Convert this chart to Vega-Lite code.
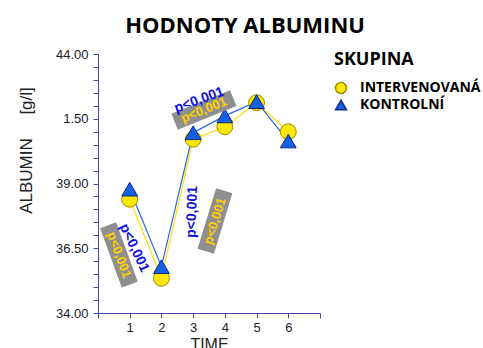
{
  "$schema": "https://vega.github.io/schema/vega-lite/v6.json",
  "autosize": {"type": "none"},
  "padding": {"left": 98, "top": 54, "right": 163, "bottom": 35},
  "width": 222,
  "height": 259,
  "background": "white",
  "config": {"view": {"stroke": null}},
  "title": {"text": "HODNOTY ALBUMINU", "font": "Open Sans", "fontSize": 22, "fontWeight": "bold", "color": "#000000", "anchor": "middle", "frame": "group", "dx": 36, "offset": 10},
  "datasets": {
    "series": [
      {"time": 1, "group": "INTERVENOVANÁ", "value": 38.39},
      {"time": 2, "group": "INTERVENOVANÁ", "value": 35.34},
      {"time": 3, "group": "INTERVENOVANÁ", "value": 40.71},
      {"time": 4, "group": "INTERVENOVANÁ", "value": 41.19},
      {"time": 5, "group": "INTERVENOVANÁ", "value": 42.12},
      {"time": 6, "group": "INTERVENOVANÁ", "value": 41.0},
      {"time": 1, "group": "KONTROLNÍ", "value": 38.78},
      {"time": 2, "group": "KONTROLNÍ", "value": 35.79},
      {"time": 3, "group": "KONTROLNÍ", "value": 40.96},
      {"time": 4, "group": "KONTROLNÍ", "value": 41.61},
      {"time": 5, "group": "KONTROLNÍ", "value": 42.16},
      {"time": 6, "group": "KONTROLNÍ", "value": 40.64}
    ],
    "notes": [
      {"key": "A_y", "kind": "yellow", "time": 0.66, "value": 36.24, "label": "p<0,001"},
      {"key": "A_b", "kind": "blue", "time": 1.14, "value": 36.51, "label": "p<0,001"},
      {"key": "B_y", "kind": "yellow", "time": 3.69, "value": 37.55, "label": "p<0,001"},
      {"key": "B_b", "kind": "blue", "time": 2.97, "value": 37.9, "label": "p<0,001"},
      {"key": "C_y", "kind": "yellow", "time": 3.34, "value": 41.84, "label": "p<0,001"},
      {"key": "C_b", "kind": "blue", "time": 3.19, "value": 42.22, "label": "p<0,001"}
    ]
  },
  "encoding": {
    "x": {"field": "time", "type": "quantitative", "scale": {"domain": [0, 7], "nice": false, "zero": false},
      "axis": {"values": [0, 1, 2, 3, 4, 5, 6, 7], "labelExpr": "datum.value >= 1 && datum.value <= 6 ? datum.label : ''", "labelOverlap": false, "grid": false, "domainColor": "#4848a8", "tickColor": "#4848a8", "tickSize": 5, "labelFont": "Liberation Sans", "labelFontSize": 13, "labelColor": "#222222", "labelPadding": 3, "title": "TIME", "titleFont": "Liberation Sans", "titleFontSize": 16, "titleFontWeight": "normal", "titleColor": "#222222", "titlePadding": 2}},
    "y": {"field": "value", "type": "quantitative", "scale": {"domain": [34, 44], "nice": false, "zero": false},
      "axis": {"values": [34, 34.5, 35, 35.5, 36, 36.5, 37, 37.5, 38, 38.5, 39, 39.5, 40, 40.5, 41, 41.5, 42, 42.5, 43, 43.5, 44], "labelExpr": "(datum.value - 34) % 2.5 == 0 ? (datum.value == 41.5 ? '1.50' : format(datum.value, '.2f')) : ''", "grid": false, "domainColor": "#4848a8", "tickColor": "#4848a8", "tickSize": 5, "labelFont": "Liberation Sans", "labelFontSize": 13, "labelColor": "#222222", "labelPadding": 5, "labelOverlap": false, "title": "ALBUMIN\u00a0\u00a0\u00a0\u00a0\u00a0[g/l]", "titleFont": "Liberation Sans", "titleFontSize": 17, "titleFontWeight": "normal", "titleColor": "#222222", "titleAnchor": "middle", "titleX": -63, "titleY": 96}}
  },
  "layer": [
    {
      "data": {"name": "series"},
      "transform": [{"filter": "datum.group == 'INTERVENOVANÁ'"}],
      "mark": {"type": "line", "strokeWidth": 1.2, "color": "#FFE000"},
      "encoding": {}
    },
    {
      "data": {"name": "series"},
      "transform": [{"filter": "datum.group == 'KONTROLNÍ'"}],
      "mark": {"type": "line", "strokeWidth": 1.2, "color": "#2266EE"},
      "encoding": {}
    },
    {
      "data": {"name": "series"},
      "mark": {"type": "point", "filled": true, "opacity": 1, "strokeWidth": 1},
      "encoding": {
        "fill": {"field": "group", "type": "nominal", "title": "\u00a0\u00a0SKUPINA", "scale": {"domain": ["INTERVENOVANÁ", "KONTROLNÍ"], "range": ["#FFE800", "#1560E0"]},
          "legend": {"orient": "none", "legendX": 236, "legendY": -3, "titleFont": "Open Sans", "titleFontSize": 18, "titleFontWeight": "bold", "titleColor": "#000000", "titlePadding": 12, "labelFont": "Open Sans", "labelFontSize": 14, "labelFontWeight": "bold", "labelColor": "#000000", "symbolSize": 120, "rowPadding": 0, "labelOffset": 12}},
        "shape": {"field": "group", "type": "nominal", "title": "\u00a0\u00a0SKUPINA", "scale": {"domain": ["INTERVENOVANÁ", "KONTROLNÍ"], "range": ["circle", "triangle-up"]}},
        "stroke": {"field": "group", "type": "nominal", "title": "\u00a0\u00a0SKUPINA", "scale": {"domain": ["INTERVENOVANÁ", "KONTROLNÍ"], "range": ["#9a8a00", "#102a80"]}},
        "size": {"value": 250}
      }
    },
    {
      "data": {"name": "notes"},
      "transform": [{"filter": "datum.kind == 'yellow'"}],
      "mark": {"type": "point", "filled": true, "opacity": 1, "shape": "M-1,-0.27L1,-0.27L1,0.27L-1,0.27Z", "size": 4000, "color": "#8f8f8f"},
      "encoding": {
        "angle": {"field": "key", "type": "nominal", "scale": {"type": "ordinal", "domain": ["A_y", "B_y", "C_y"], "range": [70, -73, -22]}, "legend": null}
      }
    },
    {
      "data": {"name": "notes"},
      "transform": [{"filter": "datum.key == 'A_y'"}],
      "mark": {"type": "text", "angle": 70, "font": "Liberation Sans", "fontSize": 13, "fontWeight": "bold", "color": "#FFD000", "align": "center", "baseline": "middle"},
      "encoding": {"text": {"field": "label"}}
    },
    {
      "data": {"name": "notes"},
      "transform": [{"filter": "datum.key == 'B_y'"}],
      "mark": {"type": "text", "angle": -73, "font": "Liberation Sans", "fontSize": 13, "fontWeight": "bold", "color": "#FFD000", "align": "center", "baseline": "middle"},
      "encoding": {"text": {"field": "label"}}
    },
    {
      "data": {"name": "notes"},
      "transform": [{"filter": "datum.key == 'C_y'"}],
      "mark": {"type": "text", "angle": -22, "font": "Liberation Sans", "fontSize": 13, "fontWeight": "bold", "color": "#FFD000", "align": "center", "baseline": "middle"},
      "encoding": {"text": {"field": "label"}}
    },
    {
      "data": {"name": "notes"},
      "transform": [{"filter": "datum.key == 'A_b'"}],
      "mark": {"type": "text", "angle": 65, "font": "Liberation Sans", "fontSize": 14, "fontWeight": "bold", "color": "#1010E0", "align": "center", "baseline": "middle"},
      "encoding": {"text": {"field": "label"}}
    },
    {
      "data": {"name": "notes"},
      "transform": [{"filter": "datum.key == 'B_b'"}],
      "mark": {"type": "text", "angle": -88, "font": "Liberation Sans", "fontSize": 14, "fontWeight": "bold", "color": "#1010E0", "align": "center", "baseline": "middle"},
      "encoding": {"text": {"field": "label"}}
    },
    {
      "data": {"name": "notes"},
      "transform": [{"filter": "datum.key == 'C_b'"}],
      "mark": {"type": "text", "angle": -20, "font": "Liberation Sans", "fontSize": 14, "fontWeight": "bold", "color": "#1010E0", "align": "center", "baseline": "middle"},
      "encoding": {"text": {"field": "label"}}
    }
  ]
}
